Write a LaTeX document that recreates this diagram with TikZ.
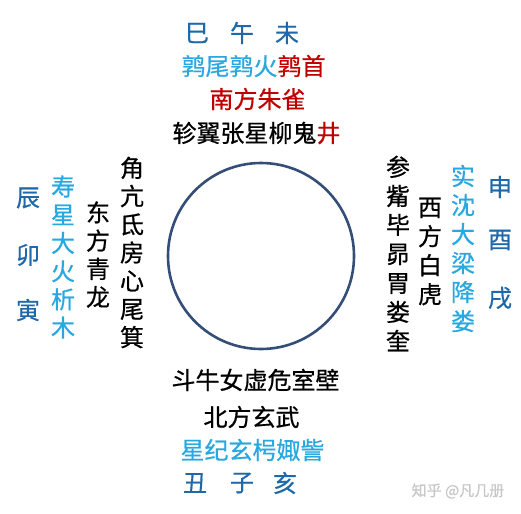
\documentclass[tikz,border=0pt]{standalone}
\usepackage{fontspec}
\newfontfamily\cjk[FakeBold=0.6]{Noto Sans CJK SC}
\usepackage{tikz}
\definecolor{zhiblue}{RGB}{31,105,170}
\definecolor{cyblue}{RGB}{41,168,224}
\definecolor{zhured}{RGB}{192,0,0}
\definecolor{ringblue}{RGB}{52,78,120}
\begin{document}
\begin{tikzpicture}[x=1pt,y=-1pt]
        \tikzstyle{every node}+=[inner sep=0pt, font=\cjk\fontsize{24}{28}\selectfont]
        \tikzstyle{colL}=[align=center, font=\cjk\fontsize{24}{28.2}\selectfont]
        \tikzstyle{colR}=[align=center, font=\cjk\fontsize{24}{29}\selectfont]
        \useasboundingbox (0,0) rectangle (521,513);
        \draw [ringblue, line width=2.6pt] (261,256) circle (93pt);
        % south
        \node [zhiblue] (si) at (197,33) {巳};
        \node [zhiblue] (wu) at (242,33) {午};
        \node [zhiblue] (wei) at (287,33) {未};
        \node (chun) at (253.5,66) {{\color{cyblue}鹑尾鹑火}{\color{zhured}鹑首}};
        \node [zhured] (zhuque) at (257.5,99) {南方朱雀};
        \node (nanxiu) at (256.5,133) {轸翼张星柳鬼{\color{zhured}井}};
        % east
        \node [zhiblue] (chen) at (28,198) {辰};
        \node [zhiblue] (mao) at (28,255) {卯};
        \node [zhiblue] (yin) at (28,310) {寅};
        \node [colL, cyblue] (shouxing) at (63,257) {寿\\星\\大\\火\\析\\木};
        \node [colL] (qinglong) at (98,254.5) {东\\方\\青\\龙};
        \node [colL] (dongxiu) at (132,252.5) {角\\亢\\氐\\房\\心\\尾\\箕};
        % west
        \node [colR] (xixiu) at (398,253.5) {参\\觜\\毕\\昴\\胃\\娄\\奎};
        \node [colR] (baihu) at (430,251.5) {西\\方\\白\\虎};
        \node [colR, cyblue] (shishen) at (463,248.5) {实\\沈\\大\\梁\\降\\娄};
        \node [zhiblue] (shen) at (500,187) {申};
        \node [zhiblue] (you) at (500,240) {酉};
        \node [zhiblue] (xu) at (500,298) {戌};
        % north
        \node (beixiu) at (255.5,380) {斗牛女虚危室壁};
        \node (xuanwu) at (251.5,417) {北方玄武};
        \node [cyblue] (xingji) at (252.5,450) {星纪玄枵娵訾};
        \node [zhiblue] (chou) at (195,483) {丑};
        \node [zhiblue] (zi) at (242,483) {子};
        \node [zhiblue] (hai) at (285,483) {亥};
        \node [black!22, font=\cjk\fontsize{15}{18}\selectfont] (mark) at (458,491) {知乎 @凡几册};
\end{tikzpicture}
\end{document}
